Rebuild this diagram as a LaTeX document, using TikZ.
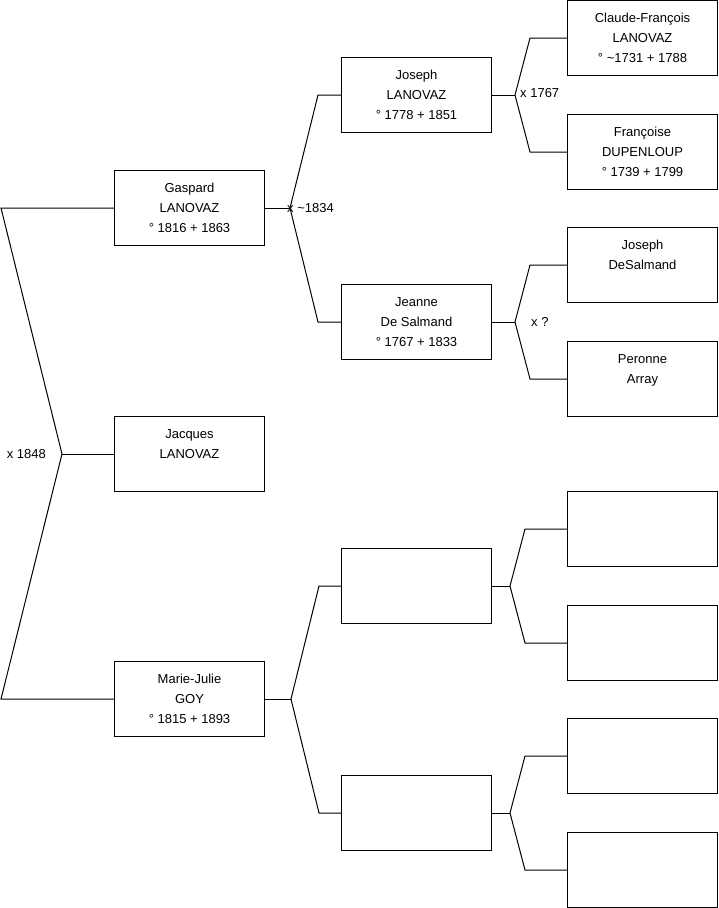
\documentclass[tikz,border=0pt]{standalone}
\usepackage{fontspec}
\setmainfont{Liberation Sans}
\usetikzlibrary{positioning,calc}
\tikzset{
  person/.style={draw=black, line width=1pt, fill=white, align=center,
                 minimum width=150pt, minimum height=75pt, inner sep=0pt,
                 font=\fontsize{13}{20}\selectfont},
  link/.style={line width=1pt, draw=black},
  tag/.style={font=\fontsize{13}{20}\selectfont, inner sep=0pt},
}
\begin{document}
\begin{tikzpicture}[x=1pt, y=-1pt]
  \useasboundingbox (0,0) rectangle (719,908);
  % generation 1
  \node[person] (gaspard) at (189.5,208) {Gaspard\\LANOVAZ\\° 1816 + 1863};
  \node[person] (jacques) at (189.5,454) {Jacques\\LANOVAZ\\~};
  \node[person] (mjulie) at (189.5,699) {Marie-Julie\\GOY\\° 1815 + 1893};
  % generation 2
  \node[person] (joseph) at (416.5,95) {Joseph\\LANOVAZ\\° 1778 + 1851};
  \node[person] (jeanne) at (416.5,322) {Jeanne\\De Salmand\\° 1767 + 1833};
  \node[person] (gp3) at (416.5,586) {};
  \node[person] (gp4) at (416.5,813) {};
  % generation 3
  \node[person] (claude) at (642.5,38) {Claude-François\\LANOVAZ\\° \textasciitilde1731 + 1788};
  \node[person, below=38pt of claude] (francoise) {Françoise\\DUPENLOUP\\° 1739 + 1799};
  \node[person] (jdesal) at (642.5,265) {Joseph\\DeSalmand\\~};
  \node[person, below=38pt of jdesal] (peronne) {Peronne\\Array\\~};
  \node[person] (gg5) at (642.5,529) {};
  \node[person, below=38pt of gg5] (gg6) {};
  \node[person] (gg7) at (642.5,756) {};
  \node[person, below=38pt of gg7] (gg8) {};

  % couples
  \coordinate (e1) at (1,208);
  \coordinate (e2) at (1,699);
  \coordinate (m0) at (62,454);
  \coordinate (m1) at (290,208);
  \coordinate (m2) at (291,699);
  \coordinate (m3) at (515,95);
  \coordinate (m4) at (515,322);
  \coordinate (m5) at (510,586);
  \coordinate (m6) at (510,813);

  \draw[link] (gaspard.west) -- (e1) -- (m0) -- (e2) -- (mjulie.west);
  \draw[link] (m0) -- (jacques.west);

  \draw[link] (gaspard.east) -- (m1);
  \draw[link] (joseph.west) -- ++(-23,0) -- (m1) -- ($(jeanne.west)+(-23,0)$) -- (jeanne.west);
  \draw[link] (mjulie.east) -- (m2);
  \draw[link] (gp3.west) -- ++(-22,0) -- (m2) -- ($(gp4.west)+(-22,0)$) -- (gp4.west);

  \draw[link] (joseph.east) -- (m3);
  \draw[link] (claude.west) -- ++(-37,0) -- (m3) -- ($(francoise.west)+(-37,0)$) -- (francoise.west);
  \draw[link] (jeanne.east) -- (m4);
  \draw[link] (jdesal.west) -- ++(-37,0) -- (m4) -- ($(peronne.west)+(-37,0)$) -- (peronne.west);
  \draw[link] (gp3.east) -- (m5);
  \draw[link] (gg5.west) -- ++(-42,0) -- (m5) -- ($(gg6.west)+(-42,0)$) -- (gg6.west);
  \draw[link] (gp4.east) -- (m6);
  \draw[link] (gg7.west) -- ++(-42,0) -- (m6) -- ($(gg8.west)+(-42,0)$) -- (gg8.west);

  % wedding years
  \node[tag, left=16pt of m0] (w0) {x 1848};
  \node[tag, right=-3pt of m1] (w1) {x \textasciitilde1834};
  \node[tag, right=5pt of m3, yshift=2pt] (w3) {x 1767};
  \node[tag, right=16pt of m4] (w4) {x ?};
\end{tikzpicture}
\end{document}
